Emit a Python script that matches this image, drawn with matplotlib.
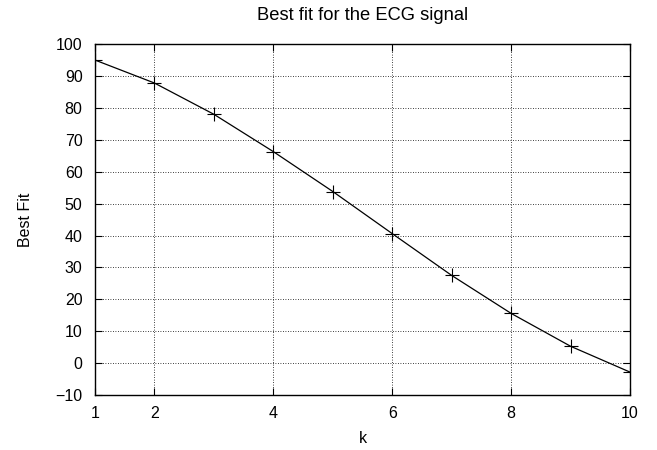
import matplotlib
matplotlib.use("Agg")
import matplotlib.pyplot as plt

plt.rcParams['font.family'] = ['Liberation Sans', 'DejaVu Sans']
plt.rcParams['font.size'] = 11.5

# data
k = [1, 2, 3, 4, 5, 6, 7, 8, 9, 10]
best_fit = [95.0, 87.8, 78.0, 66.3, 53.8, 40.6, 27.5, 15.6, 5.3, -2.8]
x_ticks = [1, 2, 4, 6, 8, 10]
y_ticks = list(range(-10, 101, 10))

fig = plt.figure(figsize=(6.57, 4.5), dpi=100)
ax = fig.add_axes([0.1446, 0.122, 0.8144, 0.780])

ax.plot(k, best_fit, color='black', linewidth=0.9, marker='+',
        markersize=10, markeredgewidth=0.8)

ax.set_xlim(1, 10)
ax.set_ylim(-10, 100)
ax.set_xticks(x_ticks)
ax.set_yticks(y_ticks)
ax.set_yticklabels([f"\u2212{abs(v)}" if v < 0 else str(v) for v in y_ticks])

ax.grid(True, linestyle=(0, (1, 2)), color='black', linewidth=0.6)
ax.tick_params(direction='in', top=True, right=True, length=5, width=0.8)
ax.tick_params(axis='y', pad=9)
ax.tick_params(axis='x', pad=8)
for s in ax.spines.values():
    s.set_linewidth(1.0)

ax.set_title('Best fit for the ECG signal', fontsize=13.2, pad=17)
ax.set_xlabel('k', labelpad=7)
ax.set_ylabel('Best Fit', labelpad=16)

fig.savefig('out.png', dpi=100)
